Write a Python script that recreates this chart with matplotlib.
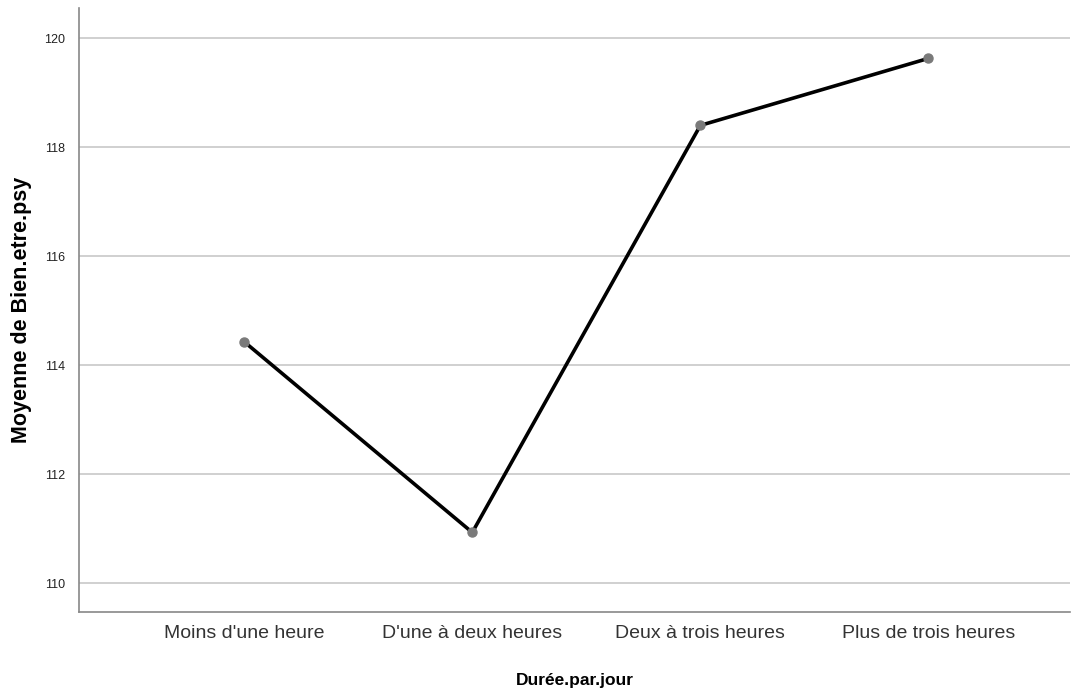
import matplotlib
matplotlib.use("Agg")
from matplotlib import pyplot as plt

categories = ["Moins d'une heure", "D'une à deux heures", "Deux à trois heures", "Plus de trois heures"]
means = [114.43, 110.93, 118.40, 119.63]
yticks = [110, 112, 114, 116, 118, 120]

plt.rcParams['font.family'] = ['Liberation Sans', 'DejaVu Sans']

fig = plt.figure(figsize=(10.84, 6.92), dpi=100)
ax = fig.add_axes([0.0729, 0.1156, 0.9141, 0.8725])

x = list(range(len(categories)))
ax.plot(x, means, color="black", lw=2.6, zorder=3)
ax.plot(x, means, "o", color="#7a7a7a", ms=6.5, zorder=4)

ax.set_xlim(-0.724, 3.62)
ax.set_ylim(109.47, 120.55)
ax.set_yticks(yticks)
ax.set_xticks(x)
ax.set_xticklabels(categories, fontsize=14, color="#333333")
ax.tick_params(axis="y", labelsize=9, length=0, pad=10, colors="#222222")
ax.tick_params(axis="x", length=0, pad=9)

ax.grid(axis="y", color="#c8c8c8", lw=1.2)
ax.set_axisbelow(True)
for s in ["top", "right"]:
    ax.spines[s].set_visible(False)
for s in ["left", "bottom"]:
    ax.spines[s].set_color("#888888")
    ax.spines[s].set_linewidth(1.2)

ax.set_ylabel("Moyenne de Bien.etre.psy", fontsize=15.5, fontweight="bold", labelpad=9)
ax.set_xlabel("Durée.par.jour", fontsize=12.5, fontweight="bold", labelpad=23)

fig.savefig("out.png", dpi=100)
